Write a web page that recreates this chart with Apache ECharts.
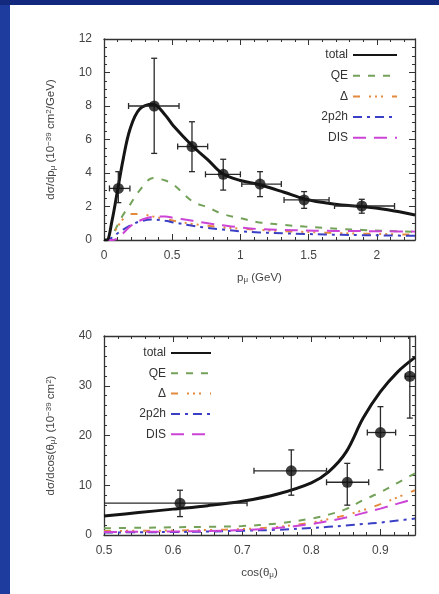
<!DOCTYPE html>
<html>
<head>
<meta charset="utf-8">
<script src="https://cdn.jsdelivr.net/npm/echarts@6/dist/echarts.min.js"></script>
<style>
  html, body { margin: 0; padding: 0; background: #fff; }
  #chart { width: 439px; height: 594px; }
</style>
</head>
<body>
<div id="chart"></div>
<script>
// ---- Muon momentum distribution (upper panel) ----
const momentumGrid = [0, 0.02, 0.06, 0.1, 0.14, 0.19, 0.26, 0.36, 0.45, 0.51, 0.65, 0.76, 0.87, 1.0, 1.14, 1.32, 1.47, 1.62, 1.74, 1.89, 2.08, 2.28];
const momentumTotal = [0, 0, 1.2, 3.0, 4.8, 6.6, 7.8, 8.1, 7.45, 6.8, 5.6, 4.8, 3.95, 3.55, 3.3, 2.85, 2.45, 2.22, 2.09, 2.0, 1.8, 1.49];
const momentumQE    = [0, 0, 0.3, 0.9, 1.5, 2.1, 2.95, 3.7, 3.55, 3.3, 2.3, 1.95, 1.55, 1.3, 1.05, 0.9, 0.8, 0.72, 0.66, 0.6, 0.54, 0.48];
const momentumDelta = [0, 0, 0.3, 0.8, 1.25, 1.55, 1.55, 1.4, 1.25, 1.15, 0.95, 0.85, 0.75, 0.68, 0.6, 0.53, 0.48, 0.44, 0.41, 0.38, 0.35, 0.32];
const momentum2p2h  = [0, 0, 0.15, 0.4, 0.62, 0.85, 1.1, 1.22, 1.15, 1.05, 0.85, 0.72, 0.62, 0.52, 0.45, 0.4, 0.36, 0.33, 0.31, 0.29, 0.27, 0.25];
const momentumDIS   = [0, 0, 0, 0.1, 0.4, 0.8, 1.15, 1.38, 1.4, 1.32, 1.15, 1.0, 0.88, 0.75, 0.65, 0.6, 0.57, 0.55, 0.54, 0.53, 0.52, 0.5];

// measured points: bin centre, value, bin edges, error band
const momentumCentres = [0.105, 0.368, 0.645, 0.874, 1.144, 1.467, 1.89];
const momentumXsec    = [3.08, 8.0, 5.58, 3.92, 3.34, 2.39, 2.03];
const momentumBinLow  = [0.04, 0.18, 0.54, 0.744, 1.01, 1.32, 1.69];
const momentumBinHigh = [0.19, 0.55, 0.76, 1.0, 1.30, 1.65, 2.13];
const momentumErrLow  = [2.23, 5.17, 4.08, 2.98, 2.59, 1.89, 1.6];
const momentumErrHigh = [4.08, 10.85, 7.06, 4.82, 4.08, 2.89, 2.43];

// ---- Muon angular distribution (lower panel) ----
const cosGrid  = [0.5, 0.55, 0.6, 0.65, 0.7, 0.75, 0.8, 0.825, 0.85, 0.875, 0.9, 0.925, 0.95];
const cosTotal = [3.8, 4.5, 5.2, 5.9, 6.8, 8.2, 10.5, 12.7, 16.6, 23.5, 28.8, 32.8, 35.7];
const cosQE    = [1.35, 1.45, 1.55, 1.65, 1.8, 2.3, 3.3, 4.1, 5.2, 7.0, 8.6, 10.5, 12.4];
const cosDelta = [0.8, 0.85, 0.9, 1.0, 1.2, 1.6, 2.5, 3.2, 4.0, 5.0, 6.2, 7.6, 9.0];
const cos2p2h  = [0.5, 0.55, 0.6, 0.7, 0.85, 1.05, 1.4, 1.65, 1.9, 2.2, 2.5, 2.9, 3.3];
const cosDIS   = [0.6, 0.65, 0.7, 0.8, 1.0, 1.4, 2.2, 2.8, 3.5, 4.4, 5.3, 6.3, 7.3];

const cosCentres = [0.61, 0.771, 0.852, 0.9, 0.9425];
const cosXsec    = [6.4, 12.9, 10.6, 20.6, 31.9];
const cosBinLow  = [0.5, 0.717, 0.822, 0.881, 0.936];
const cosBinHigh = [0.707, 0.822, 0.883, 0.922, 0.95];
const cosErrLow  = [3.7, 8.0, 6.0, 13.1, 23.5];
const cosErrHigh = [9.0, 17.1, 14.4, 25.8, 40];

const legendNames = ['total', 'QE', 'Δ', '2p2h', 'DIS'];

const FONT = 'Liberation Sans';
const componentStyles = {
  total: { color: '#151515', width: 3, type: 'solid' },
  QE:    { color: '#74a25a', width: 2, type: [7, 8] },
  'Δ':   { color: '#e38a3c', width: 2, type: [7, 9, 2, 4, 2, 4, 2, 9] },
  '2p2h':{ color: '#3b3fc4', width: 2, type: [9, 5, 3, 5] },
  DIS:   { color: '#cc44d6', width: 2, type: [13, 8] }
};

function zip(xs, ys) { return xs.map((x, i) => [x, ys[i]]); }

function curve(name, xs, ys, gi) {
  const s = componentStyles[name];
  return {
    type: 'line', name: name, xAxisIndex: gi * 2, yAxisIndex: gi * 2,
    data: zip(xs, ys), smooth: 0.35, symbol: 'none', showSymbol: false,
    clip: true, z: name === 'total' ? 4 : 3,
    lineStyle: { color: s.color, width: s.width, type: s.type },
    itemStyle: { color: s.color }
  };
}

function errorRows(c, v, bl, bh, el, eh) {
  return c.map((x, i) => [x, v[i], bl[i], bh[i], el[i], eh[i]]);
}

function renderErrorBar(params, api) {
  const xl = api.coord([api.value(2), api.value(1)]);
  const xh = api.coord([api.value(3), api.value(1)]);
  const yl = api.coord([api.value(0), api.value(4)]);
  const yh = api.coord([api.value(0), api.value(5)]);
  const cap = 3;
  const style = { stroke: '#2a2a2a', lineWidth: 1.3 };
  return {
    type: 'group',
    children: [
      { type: 'line', shape: { x1: xl[0], y1: xl[1], x2: xh[0], y2: xh[1] }, style: style },
      { type: 'line', shape: { x1: yl[0], y1: yl[1], x2: yh[0], y2: yh[1] }, style: style },
      { type: 'line', shape: { x1: xl[0], y1: xl[1] - cap, x2: xl[0], y2: xl[1] + cap }, style: style },
      { type: 'line', shape: { x1: xh[0], y1: xh[1] - cap, x2: xh[0], y2: xh[1] + cap }, style: style },
      { type: 'line', shape: { x1: yl[0] - cap, y1: yl[1], x2: yl[0] + cap, y2: yl[1] }, style: style },
      { type: 'line', shape: { x1: yh[0] - cap, y1: yh[1], x2: yh[0] + cap, y2: yh[1] }, style: style }
    ]
  };
}

function measured(rows, gi) {
  return [
    {
      type: 'custom', xAxisIndex: gi * 2, yAxisIndex: gi * 2, clip: true, z: 5,
      renderItem: renderErrorBar, encode: { x: 0, y: 1 }, data: rows, silent: true
    },
    {
      type: 'scatter', xAxisIndex: gi * 2, yAxisIndex: gi * 2, z: 6,
      data: rows.map(r => [r[0], r[1]]), symbolSize: 11,
      itemStyle: { color: '#111' }, silent: true
    }
  ];
}

const frame = { show: true, onZero: false, lineStyle: { color: '#333', width: 1.3 } };
const tickIn = { show: true, inside: true, length: 6, lineStyle: { color: '#333', width: 1 } };
const minorIn = { show: true, length: 3, lineStyle: { color: '#333', width: 1 } };
const labelStyle = { color: '#444', fontFamily: FONT, fontSize: 12 };
const nameRich = {
  sub: { fontSize: 8, verticalAlign: 'bottom', color: '#444', fontFamily: FONT },
  sup: { fontSize: 8, verticalAlign: 'top', color: '#444', fontFamily: FONT }
};
const nameStyle = { color: '#444', fontFamily: FONT, fontSize: 11.5, rich: nameRich };

function xPair(gi, min, max, interval, minorSplit, name) {
  return [
    {
      type: 'value', gridIndex: gi, position: 'bottom', min: min, max: max, interval: interval,
      axisLine: frame, axisTick: tickIn, minorTick: Object.assign({ splitNumber: minorSplit }, minorIn),
      splitLine: { show: false },
      axisLabel: Object.assign({ margin: 10, showMaxLabel: false }, labelStyle),
      name: name, nameLocation: 'middle', nameGap: 32, nameTextStyle: nameStyle
    },
    {
      type: 'value', gridIndex: gi, position: 'top', min: min, max: max, interval: interval,
      axisLine: frame, axisTick: tickIn, minorTick: Object.assign({ splitNumber: minorSplit }, minorIn),
      splitLine: { show: false }, axisLabel: { show: false }
    }
  ];
}

function yPair(gi, min, max, interval, minorSplit, name) {
  return [
    {
      type: 'value', gridIndex: gi, position: 'left', min: min, max: max, interval: interval,
      axisLine: frame, axisTick: tickIn, minorTick: Object.assign({ splitNumber: minorSplit }, minorIn),
      splitLine: { show: false },
      axisLabel: Object.assign({ margin: 12 }, labelStyle),
      name: name, nameLocation: 'middle', nameGap: 47, nameRotate: 90, nameTextStyle: nameStyle
    },
    {
      type: 'value', gridIndex: gi, position: 'right', min: min, max: max, interval: interval,
      axisLine: frame, axisTick: tickIn, minorTick: Object.assign({ splitNumber: minorSplit }, minorIn),
      splitLine: { show: false }, axisLabel: { show: false }
    }
  ];
}

const legendText = { color: '#333', fontFamily: FONT, fontSize: 12 };

const option = {
  backgroundColor: '#ffffff',
  animation: false,
  graphic: [
    { type: 'rect', shape: { x: 0, y: 0, width: 10, height: 594 }, style: { fill: '#1d3c9e' }, silent: true },
    { type: 'rect', shape: { x: 0, y: 0, width: 439, height: 5 }, style: { fill: '#12297e' }, silent: true }
  ],
  grid: [
    { left: 104, right: 24, top: 39, height: 201 },
    { left: 104, right: 24, top: 336, height: 199 }
  ],
  xAxis: [].concat(
    xPair(0, 0, 2.28, 0.5, 5, 'p{sub|μ} (GeV)'),
    xPair(1, 0.5, 0.95, 0.1, 5, 'cos(θ{sub|μ})')
  ),
  yAxis: [].concat(
    yPair(0, 0, 12, 2, 4, 'dσ/dp{sub|μ} (10{sup|−39} cm{sup|2}/GeV)'),
    yPair(1, 0, 40, 10, 5, 'dσ/dcos(θ{sub|μ}) (10{sup|−39} cm{sup|2})')
  ),
  legend: [
    {
      data: legendNames, orient: 'vertical', align: 'right', right: 36, top: 44,
      itemWidth: 44, itemHeight: 12, itemGap: 8.7, textStyle: legendText,
      itemStyle: { opacity: 0 }, selectedMode: false
    },
    {
      data: legendNames, orient: 'vertical', align: 'right', right: 222, top: 342,
      itemWidth: 40, itemHeight: 12, itemGap: 8.3, textStyle: legendText,
      itemStyle: { opacity: 0 }, selectedMode: false
    }
  ],
  series: [].concat(
    [
      curve('QE', momentumGrid, momentumQE, 0),
      curve('Δ', momentumGrid, momentumDelta, 0),
      curve('2p2h', momentumGrid, momentum2p2h, 0),
      curve('DIS', momentumGrid, momentumDIS, 0),
      curve('total', momentumGrid, momentumTotal, 0)
    ],
    measured(errorRows(momentumCentres, momentumXsec, momentumBinLow, momentumBinHigh, momentumErrLow, momentumErrHigh), 0),
    [
      curve('QE', cosGrid, cosQE, 1),
      curve('Δ', cosGrid, cosDelta, 1),
      curve('2p2h', cosGrid, cos2p2h, 1),
      curve('DIS', cosGrid, cosDIS, 1),
      curve('total', cosGrid, cosTotal, 1)
    ],
    measured(errorRows(cosCentres, cosXsec, cosBinLow, cosBinHigh, cosErrLow, cosErrHigh), 1)
  )
};

const chart = echarts.init(document.getElementById('chart'), null, { renderer: 'canvas' });
chart.setOption(option);
</script>
</body>
</html>
